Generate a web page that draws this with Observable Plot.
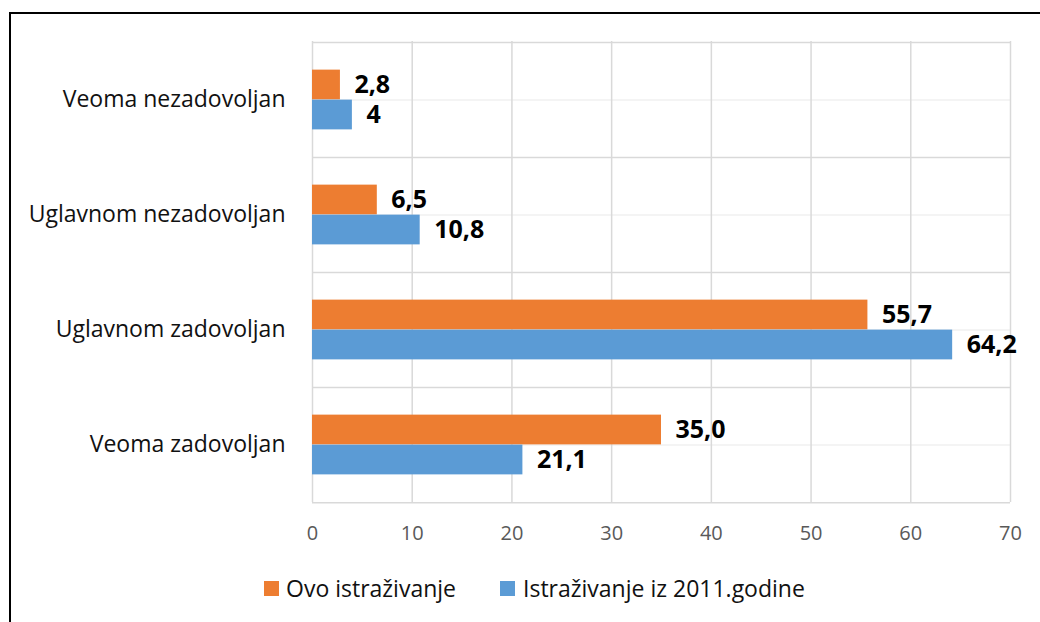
<!DOCTYPE html>
<html>
<head>
<meta charset="utf-8">
<script src="https://cdn.jsdelivr.net/npm/d3@7"></script>
<script src="https://cdn.jsdelivr.net/npm/@observablehq/plot@0.6"></script>
<style>
  html, body { margin: 0; padding: 0; background: #fff; width: 1040px; height: 622px; overflow: hidden; }
  #wrap { position: relative; width: 1040px; height: 622px; }
  #frame { position: absolute; left: 9px; top: 12px; width: 1100px; height: 700px; border-top: 2px solid #000; border-left: 2px solid #000; box-sizing: border-box; }
  #chart { position: absolute; left: 0; top: 0; }
  .legend { position: absolute; top: 574px; font-family: "Open Sans", sans-serif; font-size: 23px; color: #111; white-space: nowrap; line-height: 28px; }
  .sw { position: absolute; width: 15px; height: 15px; top: 7px; }
</style>
</head>
<body>
<div id="wrap">
  <div id="frame"></div>
  <div id="chart"></div>
  <div id="legend"></div>
</div>
<script>
const categories = ["Veoma nezadovoljan", "Uglavnom nezadovoljan", "Uglavnom zadovoljan", "Veoma zadovoljan"];
const seriesNames = ["Ovo istraživanje", "Istraživanje iz 2011.godine"];
const seriesColors = ["#ED7D31", "#5B9BD5"];
const ovoValues = [2.8, 6.5, 55.7, 35.0];
const ovoLabels = ["2,8", "6,5", "55,7", "35,0"];
const values2011 = [4, 10.8, 64.2, 21.1];
const labels2011 = ["4", "10,8", "64,2", "21,1"];
const xTicks = [0, 10, 20, 30, 40, 50, 60, 70];

const ovo = categories.map((c, i) => ({cat: c, v: ovoValues[i], label: ovoLabels[i]}));
const old = categories.map((c, i) => ({cat: c, v: values2011[i], label: labels2011[i]}));

const H = 560, mTop = 41, mBottom = 58;
const step = (H - mTop - mBottom) / categories.length;
const barH = 30;
const outerInset = step / 2 - barH;

const chart = Plot.plot({
  width: 1040,
  height: H,
  marginTop: mTop,
  marginBottom: mBottom,
  marginLeft: 312,
  marginRight: 30,
  style: {fontFamily: "'Open Sans', sans-serif", background: "transparent"},
  x: {domain: [0, 70], ticks: xTicks, label: null},
  y: {domain: categories, padding: 0, label: null},
  marks: [
    Plot.tickY(categories, {y: d => d, stroke: "#f0f0f0", strokeWidth: 1.5}),
    Plot.ruleX(xTicks, {stroke: "#d9d9d9", strokeWidth: 1.5}),
    Plot.tickY(categories, {y: d => d, dy: -step / 2, stroke: "#d9d9d9", strokeWidth: 1.5}),
    Plot.tickY(categories.slice(-1), {y: d => d, dy: step / 2, stroke: "#d9d9d9", strokeWidth: 1.5}),
    Plot.barX(ovo, {y: "cat", x: "v", fill: seriesColors[0], insetTop: outerInset, insetBottom: step / 2}),
    Plot.barX(old, {y: "cat", x: "v", fill: seriesColors[1], insetTop: step / 2, insetBottom: outerInset}),
    Plot.text(ovo, {y: "cat", x: "v", text: "label", dx: 14, dy: -barH / 2, textAnchor: "start", fontWeight: "bold", fontSize: 25, fill: "#000"}),
    Plot.text(old, {y: "cat", x: "v", text: "label", dx: 14, dy: barH / 2, textAnchor: "start", fontWeight: "bold", fontSize: 25, fill: "#000"}),
    Plot.axisX({ticks: xTicks, tickSize: 0, tickPadding: 23, fontSize: 20, fill: "#595959", tickFormat: d => String(d)}),
    Plot.axisY({tickSize: 0, tickPadding: 27, fontSize: 23, fill: "#111"})
  ]
});
document.getElementById("chart").appendChild(chart);

const legend = document.getElementById("legend");
const legendPos = [[264, 286], [500, 523]];
seriesNames.forEach((name, i) => {
  const sw = document.createElement("div");
  sw.className = "legend";
  sw.style.left = legendPos[i][0] + "px";
  sw.innerHTML = `<div class="sw" style="background:${seriesColors[i]}"></div>`;
  legend.appendChild(sw);
  const t = document.createElement("div");
  t.className = "legend";
  t.style.left = legendPos[i][1] + "px";
  t.textContent = name;
  legend.appendChild(t);
});
</script>
</body>
</html>
